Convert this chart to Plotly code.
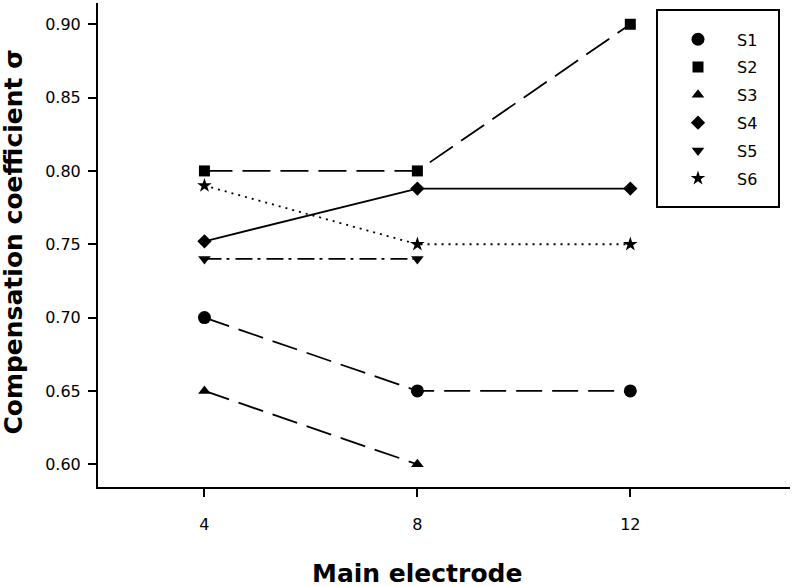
import plotly.graph_objects as go

# ---- data ----
x_s1 = [4, 8, 12]
y_s1 = [0.70, 0.65, 0.65]
x_s2 = [4, 8, 12]
y_s2 = [0.80, 0.80, 0.90]
x_s3 = [4, 8]
y_s3 = [0.65, 0.60]
x_s4 = [4, 8, 12]
y_s4 = [0.752, 0.788, 0.788]
x_s5 = [4, 8]
y_s5 = [0.74, 0.74]
x_s6 = [4, 8, 12]
y_s6 = [0.79, 0.75, 0.75]

series_names = ["S1", "S2", "S3", "S4", "S5", "S6"]
x_ticks = [4, 8, 12]
y_ticks = [0.60, 0.65, 0.70, 0.75, 0.80, 0.85, 0.90]
y_tick_text = ["0.60", "0.65", "0.70", "0.75", "0.80", "0.85", "0.90"]

xs = [x_s1, x_s2, x_s3, x_s4, x_s5, x_s6]
ys = [y_s1, y_s2, y_s3, y_s4, y_s5, y_s6]
symbols = ["circle", "square", "triangle-up", "diamond", "triangle-down", "star"]
msizes = [13, 11, 11, 11, 11, 11]
dashes = ["26px,10px", "28px,10px", "26px,10px", "solid", "17px,5px,3px,6px", "2px,5px"]

fig = go.Figure()
for i in range(6):
    fig.add_trace(go.Scatter(
        x=xs[i], y=ys[i], mode="lines+markers", name=series_names[i],
        line=dict(color="black", width=1.8, dash=dashes[i]),
        marker=dict(symbol=symbols[i], size=msizes[i], color="black"),
        showlegend=False, cliponaxis=False))
# legend-only entries (marker only)
for i in range(6):
    fig.add_trace(go.Scatter(
        x=[None], y=[None], mode="markers", name=series_names[i],
        marker=dict(symbol=symbols[i], size=msizes[i], color="black"),
        legendgroup=series_names[i], showlegend=True))

fig.update_layout(
    width=793, height=587,
    margin=dict(l=98, r=3, t=3, b=100),
    paper_bgcolor="white", plot_bgcolor="white",
    font=dict(family="DejaVu Sans", size=16, color="black"),
    xaxis=dict(range=[2, 15], tickvals=x_ticks, ticks="outside", ticklen=8,
               tickwidth=2, tickcolor="black", showline=True, linecolor="black",
               linewidth=2, showgrid=False, zeroline=False,
               ticklabelstandoff=14, tickfont=dict(family="DejaVu Sans", size=16)),
    yaxis=dict(range=[0.5845, 0.9145], tickvals=y_ticks, ticktext=y_tick_text,
               ticks="outside", ticklen=8, tickwidth=2, tickcolor="black",
               showline=True, linecolor="black", linewidth=2, showgrid=False,
               zeroline=False, ticklabelstandoff=4,
               tickfont=dict(family="DejaVu Sans", size=16)),
    legend=dict(x=0.8078, y=0.96, xanchor="left", yanchor="top",
                bgcolor="rgba(0,0,0,0)", borderwidth=0,
                font=dict(family="DejaVu Sans", size=16),
                itemwidth=68, indentation=2, tracegroupgap=4,
                traceorder="grouped"),
    showlegend=True,
)

fig.add_shape(type="rect", xref="paper", yref="paper",
              x0=0.8078, x1=0.9841, y0=0.5785, y1=0.9855,
              line=dict(color="black", width=2), fillcolor="rgba(0,0,0,0)")

fig.add_annotation(text="<b>Main electrode</b>", xref="paper", yref="paper",
                   x=0.4617, y=-0.1775, xanchor="center", yanchor="middle",
                   height=26, valign="middle",
                   showarrow=False,
                   font=dict(family="DejaVu Sans", size=25, color="black"))
fig.add_annotation(text="<b>Compensation coefficient σ</b>", xref="paper", yref="paper",
                   x=-0.1214, y=0.507, xanchor="center", yanchor="middle",
                   showarrow=False, textangle=-90,
                   font=dict(family="DejaVu Sans", size=25, color="black"))

fig.write_html("out.html", config={"displayModeBar": False},
               post_script="document.body.style.margin='0';")
